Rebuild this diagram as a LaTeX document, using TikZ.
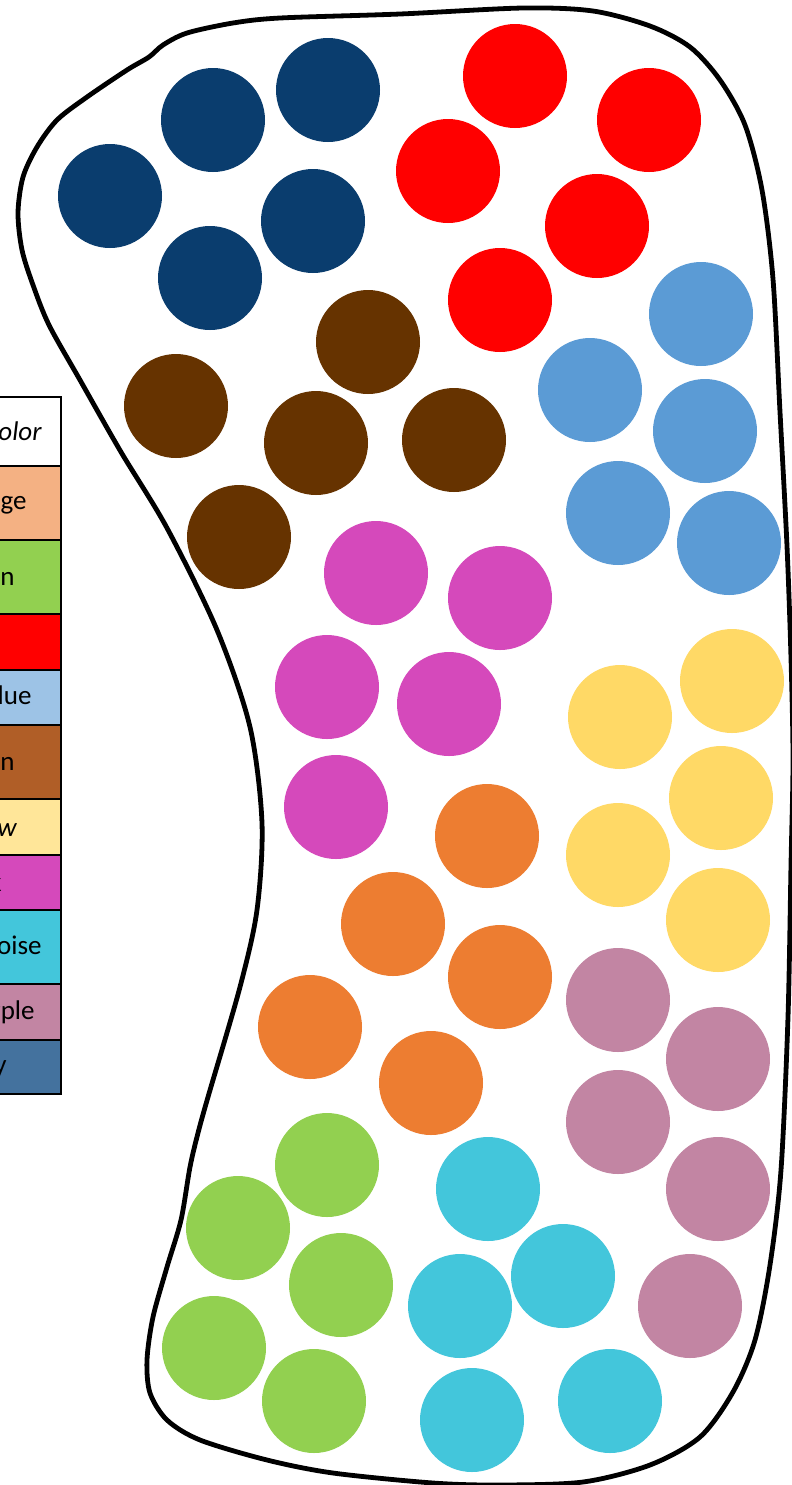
\documentclass[tikz,border=0pt]{standalone}
\usepackage{fontspec}
\setmainfont{Carlito}
\definecolor{cNavy}{HTML}{0A3D6E}
\definecolor{cRed}{HTML}{FF0000}
\definecolor{cBrown}{HTML}{663300}
\definecolor{cLblue}{HTML}{5B9BD5}
\definecolor{cPink}{HTML}{D549BB}
\definecolor{cYellow}{HTML}{FFD966}
\definecolor{cOrange}{HTML}{ED7D31}
\definecolor{cMauve}{HTML}{C285A3}
\definecolor{cGreen}{HTML}{92D050}
\definecolor{cTurq}{HTML}{43C6DB}
\definecolor{lOrange}{HTML}{F4B183}
\definecolor{lLblue}{HTML}{9DC3E6}
\definecolor{lBrown}{HTML}{B05E27}
\definecolor{lYellow}{HTML}{FFE699}
\definecolor{lNavy}{HTML}{44729E}
\begin{document}
\begin{tikzpicture}[x=0.5pt,y=-0.5pt,
  legcell/.style={draw=black,line width=1pt},
  legtext/.style={anchor=east,inner sep=0pt,font=\fontsize{13.5}{16}\selectfont},
  outline/.style={draw=black,line width=2.4pt}]
\useasboundingbox (0,0) rectangle (792,1485);
\clip (0,0) rectangle (792,1485);
\fill[white] (0,0) rectangle (792,1485);

% legend table (cut off at left edge)
\draw[legcell,fill=white]   (-300,397) rectangle (61,466);
\draw[legcell,fill=lOrange] (-300,466) rectangle (61,540);
\draw[legcell,fill=cGreen]  (-300,540) rectangle (61,614);
\draw[legcell,fill=cRed]    (-300,614) rectangle (61,670);
\draw[legcell,fill=lLblue]  (-300,670) rectangle (61,725);
\draw[legcell,fill=lBrown]  (-300,725) rectangle (61,799);
\draw[legcell,fill=lYellow] (-300,799) rectangle (61,855);
\draw[legcell,fill=cPink]   (-300,855) rectangle (61,910);
\draw[legcell,fill=cTurq]   (-300,910) rectangle (61,984);
\draw[legcell,fill=cMauve]  (-300,984) rectangle (61,1040);
\draw[legcell,fill=lNavy]   (-300,1040) rectangle (61,1094);
\node[legtext] (tColor)  at (42,431.5) {\itshape Color};
\node[legtext] (tOrange) at (27,503) {Orange};
\node[legtext] (tGreen)  at (15,577) {Green};
\node[legtext] (tRed)    at (-30,642) {Red};
\node[legtext] (tLblue)  at (32,697.5) {Light blue};
\node[legtext] (tBrown)  at (15,762) {Brown};
\node[legtext] (tYellow) at (17,827) {\itshape Yellow};
\node[legtext] (tPink)   at (2,882.5) {Pink};
\node[legtext] (tTurq)   at (42,947) {Turquoise};
\node[legtext] (tPurple) at (35,1012) {Purple};
\node[legtext] (tNavy)   at (7,1067) {Navy};

% outline
\draw[outline] plot[smooth cycle, tension=0.5] coordinates {
 (280,18) (400,14) (523,8) (593,11) (650,26) (690,47) (720,80) (745,125)
 (762,190) (773,279) (780,412) (787,546) (791,658) (793,760) (791,865)
 (788,1017) (781,1170) (770,1265) (755,1340) (733,1392) (700,1437)
 (650,1465) (583,1482) (500,1485) (433,1483) (333,1473) (267,1460)
 (200,1440) (167,1420) (150,1393) (147,1360) (153,1317) (167,1267)
 (181,1220) (190,1167) (198,1133) (208,1097) (240,987) (257,910)
 (262,823) (250,727) (217,630) (167,528) (121,452) (80,380) (49,325)
 (33,285) (22,250) (18,213) (23,177) (37,147) (57,120) (87,97)
 (127,70) (149,57) (163,45) (187,33) (233,23) };

% circles
\foreach \p in {(110,196),(213,120),(328,90),(313,221),(210,278)}
  \fill[cNavy] \p circle (52);
\foreach \p in {(515,76),(649,120),(448,171),(597,226),(500,300)}
  \fill[cRed] \p circle (52);
\foreach \p in {(368,342),(176,406),(316,443),(454,440),(239,537)}
  \fill[cBrown] \p circle (52);
\foreach \p in {(701,314),(590,390),(705,431),(618,513),(729,543)}
  \fill[cLblue] \p circle (52);
\foreach \p in {(376,573),(500,598),(327,687),(449,704),(336,807)}
  \fill[cPink] \p circle (52);
\foreach \p in {(732,681),(620,717),(721,798),(618,855),(718,920)}
  \fill[cYellow] \p circle (52);
\foreach \p in {(487,836),(393,924),(500,977),(310,1027),(431,1083)}
  \fill[cOrange] \p circle (52);
\foreach \p in {(618,1000),(718,1059),(618,1122),(718,1189),(690,1306)}
  \fill[cMauve] \p circle (52);
\foreach \p in {(327,1165),(238,1228),(341,1285),(214,1348),(314,1401)}
  \fill[cGreen] \p circle (52);
\foreach \p in {(488,1189),(563,1276),(460,1306),(472,1420),(610,1401)}
  \fill[cTurq] \p circle (52);
\end{tikzpicture}
\end{document}
